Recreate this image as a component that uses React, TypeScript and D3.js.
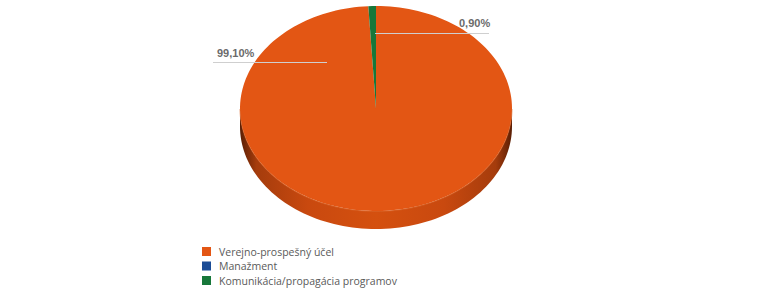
import React from "react";
import * as d3 from "d3";

const categories = ["Verejno-prospešný účel", "Manažment", "Komunikácia/propagácia programov"];
const values = [99.1, 0, 0.9];
const labels = ["99,10%", "", "0,90%"];
const colors = ["#E35614", "#1B4C96", "#17773A"];

const W = 771, H = 292;
const cx = 376, cy = 108.5, rx = 136, ry = 102.5, depth = 18;

function pt(a: number, dy = 0): [number, number] {
  return [cx + rx * Math.sin(a), cy - ry * Math.cos(a) + dy];
}

function topPath(a0: number, a1: number) {
  const steps = Math.max(2, Math.ceil(((a1 - a0) / (2 * Math.PI)) * 180));
  const pts: [number, number][] = [[cx, cy]];
  for (let i = 0; i <= steps; i++) pts.push(pt(a0 + ((a1 - a0) * i) / steps));
  return d3.line()(pts) + "Z";
}

function sidePath(a0: number, a1: number) {
  const s = Math.max(a0, Math.PI / 2), e = Math.min(a1, (3 * Math.PI) / 2);
  if (e <= s) return null;
  const steps = Math.max(2, Math.ceil(((e - s) / (2 * Math.PI)) * 180));
  const upper: [number, number][] = [];
  const lower: [number, number][] = [];
  for (let i = 0; i <= steps; i++) {
    const a = s + ((e - s) * i) / steps;
    upper.push(pt(a));
    lower.push(pt(a, depth));
  }
  return d3.line()([...upper, ...lower.reverse()]) + "Z";
}

export default function App() {
  const arcs = d3.pie<number>().sort(null).startAngle(0).endAngle(2 * Math.PI)(values);
  const labelLayout: Record<number, { tx: number; ty: number; x1: number; x2: number; ly: number }> = {
    0: { tx: 217, ty: 57, x1: 213, x2: 327, ly: 62.5 },
    2: { tx: 459, ty: 27, x1: 375, x2: 489, ly: 33.5 },
  };
  return (
    <svg width={W} height={H} style={{ position: "absolute", left: 0, top: 0 }}>
      <defs>
        <linearGradient id="side0" x1={cx - rx} x2={cx + rx} y1={0} y2={0} gradientUnits="userSpaceOnUse">
          <stop offset="0" stopColor="#5a1e04" />
          <stop offset="0.06" stopColor="#a53c0c" />
          <stop offset="0.25" stopColor="#c9490f" />
          <stop offset="0.5" stopColor="#d4500f" />
          <stop offset="0.75" stopColor="#c9490f" />
          <stop offset="0.94" stopColor="#a53c0c" />
          <stop offset="1" stopColor="#5a1e04" />
        </linearGradient>
      </defs>
      <rect width={W} height={H} fill="#fff" />
      {arcs.map((a, i) => {
        const p = sidePath(a.startAngle, a.endAngle);
        return p && a.value > 0 ? <path key={"s" + i} d={p} fill={i === 0 ? "url(#side0)" : colors[i]} /> : null;
      })}
      {arcs.map((a, i) =>
        a.value > 0 ? <path key={"t" + i} d={topPath(a.startAngle, a.endAngle)} fill={colors[i]} /> : null
      )}
      <path
        d={d3.line()(d3.range(90, 271, 2).map((deg) => pt((deg * Math.PI) / 180, 0.5)))!}
        fill="none"
        stroke="#d8662a"
        strokeWidth={1}
        opacity={0.6}
      />
      {arcs.map((a, i) => {
        const L = labelLayout[i];
        if (!L || a.value <= 0) return null;
        return (
          <g key={"l" + i}>
            <line x1={L.x1} x2={L.x2} y1={L.ly} y2={L.ly} stroke="#cfcfcf" strokeWidth={1} />
            <text x={L.tx} y={L.ty} fontFamily="Liberation Sans, Arial, sans-serif" fontWeight="bold" fontSize={11} fill="#6b6b6b">
              {labels[i]}
            </text>
          </g>
        );
      })}
      {categories.map((c, i) => (
        <g key={"lg" + i} transform={`translate(202, ${247 + i * 14.5})`}>
          <rect width={9} height={9} fill={colors[i]} />
          <text x={17} y={8.5} fontFamily="Open Sans, sans-serif" fontSize={10.5} fill="#5a5a5a">
            {c}
          </text>
        </g>
      ))}
    </svg>
  );
}
